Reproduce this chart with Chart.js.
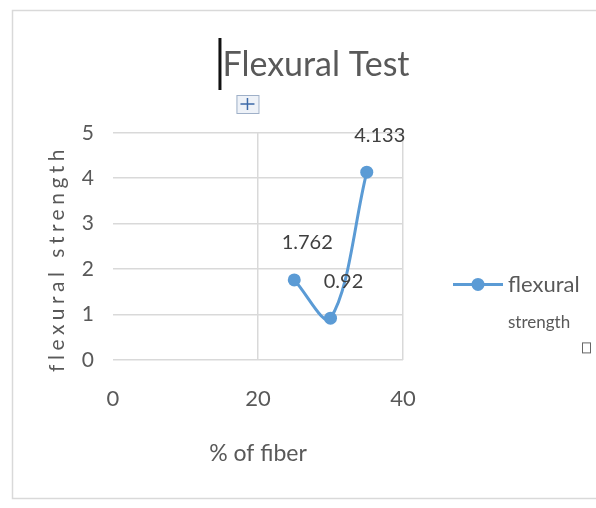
<!DOCTYPE html>
<html>
<head>
<meta charset="utf-8">
<script src="https://cdn.jsdelivr.net/npm/chart.js@4.4.0/dist/chart.umd.min.js"></script>
<style>
  html, body { margin: 0; padding: 0; background: #fff; }
  #wrap { width: 596px; height: 508px; }
</style>
</head>
<body>
<div id="wrap"><canvas id="chart" width="596" height="508"></canvas></div>
<script>
const fiberPercent = [25, 30, 35];
const flexuralStrength = [1.762, 0.92, 4.133];
const xTickValues = [0, 20, 40];
const yTickValues = [0, 1, 2, 3, 4, 5];
const seriesName = ['flexural', 'strength'];

const FONT = "Lato, 'Liberation Sans', sans-serif";
const textColor = '#595959';
const lineColor = '#5b9bd5';
const gridColor = '#d9d9d9';

// outer frame of the chart object
const framePlugin = {
    id: 'frame',
    beforeDraw(chart) {
        const ctx = chart.ctx;
        ctx.save();
        ctx.fillStyle = '#fff';
        ctx.fillRect(0, 0, chart.width, chart.height);
        ctx.strokeStyle = gridColor;
        ctx.lineWidth = 1.5;
        ctx.strokeRect(12.5, 10.5, chart.width, chart.height - 20);
        ctx.restore();
    }
};

// wider letter spacing on the y axis title, and sits a bit lower, like the picture
const spacedTitle = {
    id: 'spacedTitle',
    afterLayout(chart) {
        const s = chart.scales.y;
        if (s._spaced) return;
        const orig = s.drawTitle.bind(s);
        s.drawTitle = function () {
            this.ctx.save();
            this.ctx.letterSpacing = '4.5px';
            this.ctx.translate(0, 12);
            orig();
            this.ctx.restore();
        };
        s._spaced = true;
    }
};

// value labels above each point
const valueLabels = {
    id: 'valueLabels',
    afterDatasetsDraw(chart) {
        const ctx = chart.ctx;
        const meta = chart.getDatasetMeta(0);
        ctx.save();
        ctx.font = '20px ' + FONT;
        ctx.fillStyle = '#404040';
        ctx.textAlign = 'center';
        ctx.textBaseline = 'middle';
        meta.data.forEach((pt, i) => {
            ctx.fillText(String(flexuralStrength[i]), pt.x + 13, pt.y - 37);
        });
        ctx.restore();
    }
};

// legend at the right, name wraps on two lines
const sideLegend = {
    id: 'sideLegend',
    afterDraw(chart) {
        const ctx = chart.ctx;
        const area = chart.chartArea;
        const ds = chart.data.datasets[0];
        const x0 = area.right + 50;
        const y0 = (area.top + area.bottom) / 2 + 38;
        ctx.save();
        ctx.strokeStyle = ds.borderColor;
        ctx.lineWidth = 3;
        ctx.beginPath();
        ctx.moveTo(x0, y0);
        ctx.lineTo(x0 + 50, y0);
        ctx.stroke();
        ctx.fillStyle = ds.backgroundColor;
        ctx.beginPath();
        ctx.arc(x0 + 25, y0, 6.5, 0, Math.PI * 2);
        ctx.fill();
        ctx.fillStyle = textColor;
        ctx.textAlign = 'left';
        ctx.textBaseline = 'middle';
        ctx.font = '22px ' + FONT;
        ctx.fillText(seriesName[0], x0 + 55, y0 + 1);
        ctx.font = '17px ' + FONT;
        ctx.fillText(seriesName[1], x0 + 55, y0 + 38);
        // selection handle
        ctx.strokeStyle = '#666';
        ctx.lineWidth = 1;
        ctx.strokeRect(x0 + 129.5, y0 + 58.5, 8, 10);

        // text cursor and move icon next to the title
        const tb = chart.titleBlock;
        ctx.font = '34px ' + FONT;
        const tw = ctx.measureText(chart.options.plugins.title.text).width;
        const tl = (tb.left + tb.right) / 2 - tw / 2;
        ctx.fillStyle = '#111';
        ctx.fillRect(tl - 4, 38, 3, 52);
        const ix = tl + 14, iy = 95;
        ctx.fillStyle = '#eef2f8';
        ctx.fillRect(ix, iy, 22, 18);
        ctx.strokeStyle = '#9fb0c8';
        ctx.strokeRect(ix + 0.5, iy + 0.5, 22, 18);
        ctx.strokeStyle = '#3d6aa8';
        ctx.lineWidth = 1.5;
        ctx.beginPath();
        ctx.moveTo(ix + 11, iy + 3); ctx.lineTo(ix + 11, iy + 15);
        ctx.moveTo(ix + 4, iy + 9); ctx.lineTo(ix + 18, iy + 9);
        ctx.stroke();
        ctx.restore();
    }
};

const ctx = document.getElementById('chart').getContext('2d');

new Chart(ctx, {
    type: 'line',
    data: {
        datasets: [{
            label: seriesName.join(' '),
            data: fiberPercent.map((x, i) => ({ x: x, y: flexuralStrength[i] })),
            borderColor: lineColor,
            backgroundColor: lineColor,
            borderWidth: 3,
            pointRadius: 6.5,
            pointBorderWidth: 0,
            tension: 0.35,
            fill: false,
        }]
    },
    options: {
        responsive: false,
        animation: false,
        layout: {
            padding: { top: 0, right: 0, bottom: 39, left: 36 }
        },
        plugins: {
            legend: { display: false },
            tooltip: { enabled: false },
            title: {
                display: true,
                text: 'Flexural Test',
                color: textColor,
                font: { family: FONT, size: 34, weight: 'normal' },
                padding: { top: 45, bottom: 47 }
            }
        },
        scales: {
            x: {
                type: 'linear',
                min: 0,
                max: 40,
                afterBuildTicks: (scale) => { scale.ticks = xTickValues.map(v => ({ value: v })); },
                afterFit: (scale) => { scale.height = 109; },
                grid: {
                    color: (c) => c.tick && c.tick.value === 0 ? 'rgba(0,0,0,0)' : gridColor,
                    lineWidth: 1.5,
                    drawTicks: false
                },
                border: { display: false },
                ticks: {
                    padding: 26,
                    color: textColor,
                    font: { family: FONT, size: 22 }
                },
                title: {
                    display: true,
                    text: '% of fiber',
                    color: textColor,
                    font: { family: FONT, size: 23 },
                    padding: { top: 20, bottom: 2 }
                }
            },
            y: {
                min: 0,
                max: 5,
                afterBuildTicks: (scale) => { scale.ticks = yTickValues.map(v => ({ value: v })); },
                afterFit: (scale) => { scale.width = 77; },
                grid: { color: gridColor, lineWidth: 1.5, drawTicks: false },
                border: { display: false },
                ticks: {
                    padding: 19,
                    color: textColor,
                    font: { family: FONT, size: 21 }
                },
                title: {
                    display: true,
                    text: 'flexural strength',
                    color: textColor,
                    font: { family: FONT, size: 21 },
                    padding: { top: 9, bottom: 0 }
                }
            },
            // empty space on the right that holds the legend
            legendSpace: {
                axis: 'y',
                position: 'right',
                min: 0,
                max: 1,
                afterFit: (scale) => { scale.width = 193; },
                grid: { display: false },
                border: { display: false },
                ticks: { display: false }
            }
        }
    },
    plugins: [framePlugin, spacedTitle, valueLabels, sideLegend]
});
</script>
</body>
</html>
